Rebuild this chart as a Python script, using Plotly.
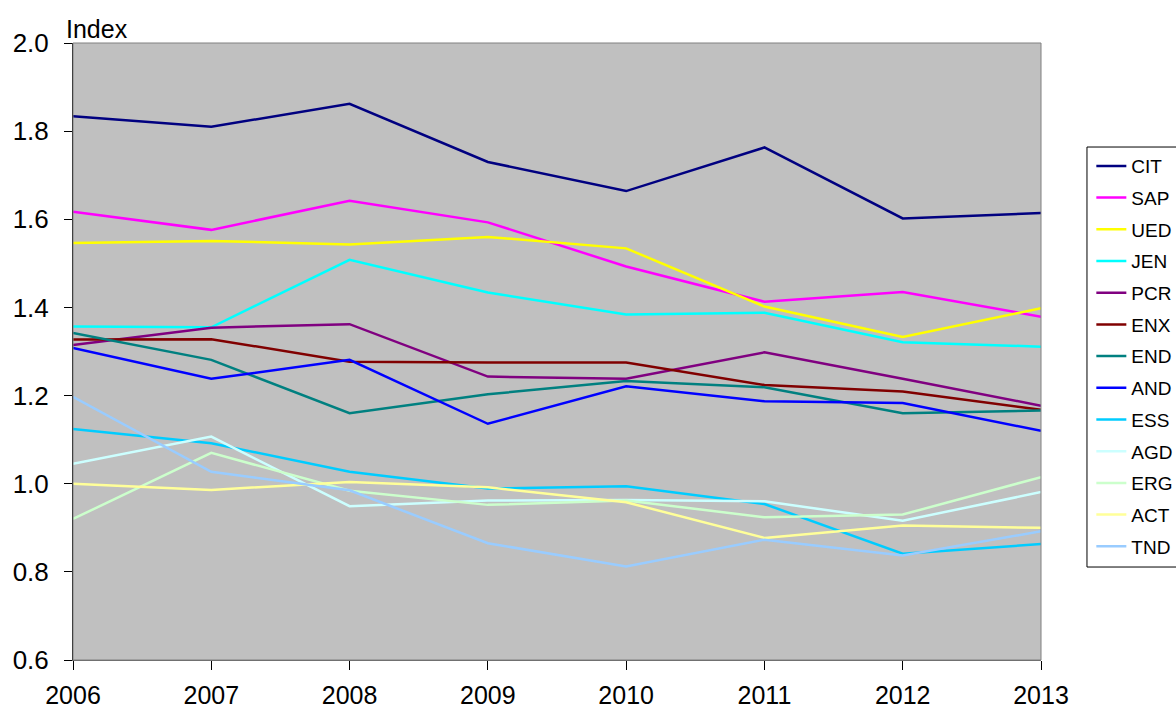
import plotly.graph_objects as go

years = [2006, 2007, 2008, 2009, 2010, 2011, 2012, 2013]

cit = [1.834, 1.810, 1.862, 1.730, 1.664, 1.763, 1.602, 1.614]
sap = [1.617, 1.576, 1.642, 1.593, 1.493, 1.413, 1.435, 1.379]
ued = [1.546, 1.551, 1.543, 1.560, 1.534, 1.402, 1.333, 1.398]
jen = [1.357, 1.355, 1.508, 1.434, 1.384, 1.388, 1.321, 1.311]
pcr = [1.315, 1.354, 1.362, 1.243, 1.238, 1.298, 1.238, 1.177]
enx = [1.327, 1.328, 1.277, 1.275, 1.275, 1.224, 1.209, 1.168]
end = [1.342, 1.281, 1.160, 1.203, 1.233, 1.219, 1.160, 1.166]
and_ = [1.308, 1.238, 1.281, 1.136, 1.221, 1.187, 1.183, 1.120]
ess = [1.124, 1.092, 1.027, 0.989, 0.994, 0.954, 0.841, 0.863]
agd = [1.045, 1.107, 0.949, 0.962, 0.963, 0.960, 0.916, 0.981]
erg = [0.920, 1.070, 0.984, 0.952, 0.962, 0.924, 0.930, 1.015]
act = [1.000, 0.986, 1.004, 0.992, 0.958, 0.877, 0.905, 0.900]
tnd = [1.197, 1.027, 0.985, 0.865, 0.812, 0.873, 0.837, 0.892]

series = [
    ("CIT", cit, "#000080"),
    ("SAP", sap, "#FF00FF"),
    ("UED", ued, "#FFFF00"),
    ("JEN", jen, "#00FFFF"),
    ("PCR", pcr, "#800080"),
    ("ENX", enx, "#800000"),
    ("END", end, "#008080"),
    ("AND", and_, "#0000FF"),
    ("ESS", ess, "#00CCFF"),
    ("AGD", agd, "#CCFFFF"),
    ("ERG", erg, "#CCFFCC"),
    ("ACT", act, "#FFFF99"),
    ("TND", tnd, "#99CCFF"),
]

fig = go.Figure()
for name, vals, color in series:
    # one legend group per series so tracegroupgap spaces the entries out
    fig.add_trace(go.Scatter(x=years, y=vals, name=name, mode="lines",
                             legendgroup=name,
                             line=dict(color=color, width=2.5)))

fig.update_layout(
    width=1176,
    height=713,
    margin=dict(l=73, r=135, t=43, b=53, autoexpand=False),
    plot_bgcolor="#C0C0C0",
    paper_bgcolor="white",
    font=dict(family="Liberation Sans, Arial", size=26, color="black"),
    showlegend=True,
    legend=dict(
        x=1.052, y=0.8314, xanchor="left", yanchor="top",
        borderwidth=0, bgcolor="rgba(0,0,0,0)",
        font=dict(size=19), itemwidth=30,
        tracegroupgap=4,
    ),
)
fig.update_xaxes(
    range=[2006, 2013], tickmode="array", tickvals=years,
    showgrid=False, zeroline=False, automargin=False,
    ticks="outside", ticklen=9, tickcolor="black",
    showline=True, linecolor="#606060", linewidth=1,
    ticklabelstandoff=4, tickfont=dict(size=25),
)
fig.update_yaxes(
    range=[0.6, 2.0], dtick=0.2, tickformat=".1f",
    showgrid=False, zeroline=False, automargin=False,
    ticks="outside", ticklen=8, tickcolor="black",
    showline=True, linecolor="black", linewidth=1,
    ticklabelstandoff=10,
)
# grey frame around the plot area
fig.add_shape(type="rect", xref="paper", yref="paper", x0=0, y0=0, x1=1, y1=1,
              line=dict(color="#808080", width=1), layer="above")
# legend frame, running off the right edge like the original
fig.add_shape(type="rect", xref="paper", yref="paper",
              x0=1.0475, x1=1.2, y0=0.1507, y1=0.8314,
              line=dict(color="black", width=1))
fig.add_annotation(text="Index", xref="paper", yref="paper", x=-0.009, y=1,
                   xanchor="left", yanchor="bottom", showarrow=False,
                   font=dict(size=25), yshift=-2)

fig.write_html("out.html", config={"displayModeBar": False},
               post_script="document.body.style.margin='0';")
